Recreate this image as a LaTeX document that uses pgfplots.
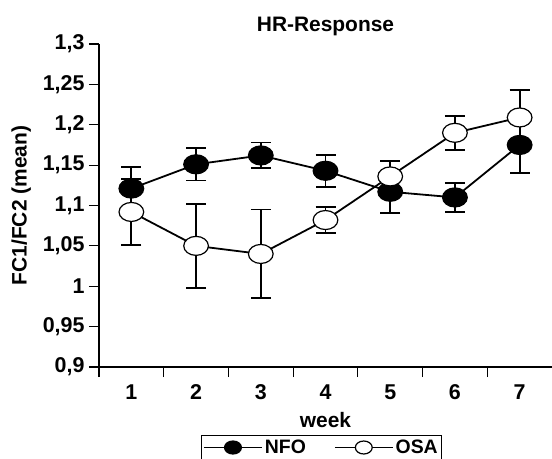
\documentclass[border=0pt]{standalone}
\usepackage{fontspec}
\setmainfont{Liberation Sans}
\usepackage{pgfplots}
\pgfplotsset{compat=1.18}

\begin{document}
\begin{tikzpicture}

\begin{axis}[
	scale only axis,
	width=453bp, height=323bp,
	xmin=0.5, xmax=7.5,
	ymin=0.9, ymax=1.3,
	axis x line*=bottom,
	axis y line*=left,
	axis line style={line width=1.2bp},
	tick style={line width=1.2bp, black},
	tick align=outside,
	major tick length=10bp,
	xtick={0.5,1.5,...,6.5},
	xticklabels={},
	extra x ticks={1,2,3,4,5,6,7},
	extra x tick labels={1,2,3,4,5,6,7},
	extra x tick style={major tick length=0pt, tick label style={yshift=-14bp}},
	ytick={0.9,0.95,1,1.05,1.1,1.15,1.2,1.25,1.3},
	yticklabels={0{,}9,0{,}95,1,1{,}05,1{,}1,1{,}15,1{,}2,1{,}25,1{,}3},
	xticklabel style={font=\fontsize{21.5}{25}\selectfont\bfseries},
	yticklabel style={font=\fontsize{21.5}{25}\selectfont\bfseries, xshift=-1bp},
	title={HR-Response},
	title style={font=\fontsize{21}{25}\selectfont\bfseries, yshift=-1bp},
	xlabel={week},
	xlabel style={font=\fontsize{21}{25}\selectfont\bfseries, yshift=4bp},
	ylabel={FC1/FC2 (mean)},
	ylabel style={font=\fontsize{21}{25}\selectfont\bfseries},
	ylabel shift=5bp,
	legend columns=2,
	legend style={
		at={(0.491,-0.212)}, anchor=north,
		draw=black, line width=1bp,
		font=\fontsize{19.5}{22}\selectfont\bfseries,
		/tikz/every even column/.append style={column sep=26bp},
		inner sep=2bp,
		nodes={inner sep=2bp},
	},
	legend image code/.code={
		\draw[#1, mark size=6.5bp, mark repeat=2, mark phase=2]
			plot coordinates {(0bp,0bp) (29bp,0bp) (58bp,0bp)};
	},
	every axis plot/.append style={line width=1.8bp, black},
	error bars/error bar style={line width=1.8bp},
	error bars/error mark options={rotate=90, mark size=10bp, line width=1.8bp},
]

% NFO
\addplot[
	mark=*,
	mark options={fill=black, xscale=1.3, line width=1.2bp},
	mark size=9.5bp,
	error bars/.cd, y dir=both, y explicit,
] coordinates {
	(1, 1.121) +- (0, 0.027)
	(2, 1.151) +- (0, 0.020)
	(3, 1.162) +- (0, 0.016)
	(4, 1.143) +- (0, 0.020)
	(5, 1.117) +- (0, 0.026)
	(6, 1.110) +- (0, 0.018)
	(7, 1.175) +- (0, 0.035)
};
\addlegendentry{NFO}

% OSA
\addplot[
	mark=*,
	mark options={fill=white, xscale=1.3, line width=1.2bp},
	mark size=9.5bp,
	error bars/.cd, y dir=both, y explicit,
] coordinates {
	(1, 1.092) +- (0, 0.041)
	(2, 1.050) +- (0, 0.052)
	(3, 1.040) +- (0, 0.055)
	(4, 1.082) +- (0, 0.016)
	(5, 1.136) +- (0, 0.019)
	(6, 1.190) +- (0, 0.021)
	(7, 1.209) +- (0, 0.034)
};
\addlegendentry{OSA}

\coordinate (bl) at (rel axis cs:0,0);
\coordinate (tr) at (rel axis cs:1,1);
\end{axis}

\pgfresetboundingbox
\path ([xshift=-99bp,yshift=-92bp]bl) rectangle ([yshift=44bp]tr);

\end{tikzpicture}
\end{document}
